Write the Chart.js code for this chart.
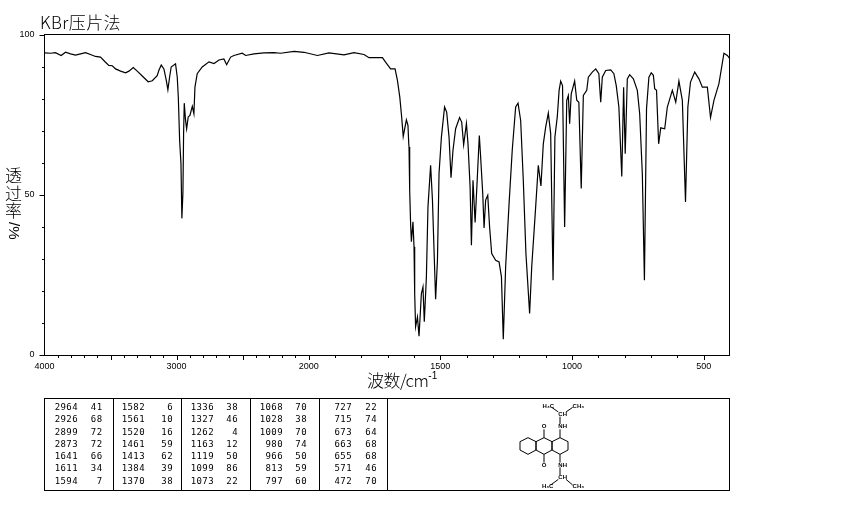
<!DOCTYPE html>
<html><head><meta charset="utf-8">
<style>html,body{margin:0;padding:0;background:#fff}canvas{display:block}</style>
<script src="https://cdn.jsdelivr.net/npm/chart.js@4"></script></head>
<body><canvas id="c" width="850" height="510"></canvas>
<script>
const wavenumbers=[3998,3955,3917,3874,3841,3803,3765,3727,3689,3652,3614,3576,3538,3513,3487,3462,3424,3386,3361,3328,3298,3260,3215,3184,3147,3134,3116,3096,3078,3066,3053,3041,3008,2995,2987,2977,2967,2960,2952,2947,2942,2932,2924,2912,2899,2881,2869,2861,2844,2806,2755,2717,2679,2642,2621,2591,2566,2503,2477,2414,2339,2263,2212,2111,2036,1967,1923,1866,1828,1790,1771,1720,1708,1689,1672,1663,1654,1647,1641,1629,1623,1620,1619,1616.5,1613,1610,1604,1600,1597.5,1594,1587,1581,1572,1566,1561,1553,1547,1537,1530,1524,1518,1511,1505,1496,1484,1476,1467,1459.5,1452,1442,1427,1419,1411.5,1401,1395,1387,1382,1376,1368,1359.5,1352,1347,1339,1334,1328,1320,1313,1305,1290,1277,1268,1261,1252,1239,1227,1214,1205,1195,1185,1175,1161,1153,1138,1128,1118,1109,1100,1090,1081,1072,1065,1056,1049,1043,1036,1028,1020,1014,1009,1003,990,982,974,965,957,944,938,923,910,898,891,885,872,853,841,832,822,811,804,798,790,781,767,752,743,733,725,717,708,699,691,686,679,671,663,648,638,619,606,594,581,569,560,550,534,518,505,486,474,461,442,423,410,401];
const transmittance=[94.4,94.3,94.5,93.6,94.6,94.1,93.7,94.1,94.5,93.9,93.3,93.1,91.5,90.5,90.4,89.4,88.7,88.2,88.7,89.8,88.7,87.2,85.4,85.7,87.3,89.0,90.6,89.4,85.8,82.9,86.8,90.0,91.0,86.8,80.6,67.1,59.8,42.7,50.9,69.2,78.7,73.3,70.7,74.4,74.9,77.7,75.4,83.7,87.9,90.0,91.6,91.1,92.2,92.5,90.7,93.1,93.6,94.3,93.6,94.1,94.4,94.5,94.3,94.9,94.6,93.6,94.4,93.8,94.5,93.9,92.9,92.9,91.5,89.4,89.4,85.8,80.6,74.4,68.3,73.5,71.8,66.0,65.0,51.5,41.1,35.4,41.6,33.8,19.2,8.8,11.9,5.9,19.2,21.3,10.4,24.4,46.3,59.3,48.4,32.8,17.4,29.6,56.7,68.1,77.5,75.9,68.1,55.4,64.0,70.7,74.2,72.8,65.7,72.3,66.0,52.5,34.3,54.6,41.4,55.6,68.6,61.9,50.4,39.7,48.4,49.9,40.0,31.7,29.6,29.1,24.4,4.9,27.6,47.3,64.0,77.5,78.7,73.3,54.6,31.7,13.0,27.6,46.3,59.3,52.8,66.0,71.2,75.6,69.2,23.4,68.1,74.4,82.7,85.6,84.2,40.0,79.6,81.1,72.3,81.6,85.6,79.6,79.0,52.0,81.1,82.7,86.8,88.4,89.4,87.9,79.0,86.8,88.9,89.1,87.9,84.2,77.5,55.8,83.7,62.9,86.3,87.6,86.3,82.7,75.4,56.7,23.4,77.0,86.8,88.2,87.4,83.2,82.7,66.0,71.0,70.7,77.5,82.7,79.0,85.6,79.6,47.8,77.5,85.3,88.4,86.3,83.7,83.7,74.2,79.6,84.8,94.3,93.6,92.6];
const xTickLabels=[4000,3000,2000,1500,1000,500];
const xLongTicks=[3500,3000,2500,2000,1500,1000,500];
const yTickLabels=[0,50,100];
const peakWavenumbers=[
 ["2964","2926","2899","2873","1641","1611","1594"],
 ["1582","1561","1520","1461","1413","1384","1370"],
 ["1336","1327","1262","1163","1119","1099","1073"],
 ["1068","1028","1009","980","966","813","797"],
 ["727","715","673","663","655","571","472"]];
const peakValues=[
 ["41","68","72","72","66","34","7"],
 ["6","10","16","59","62","39","38"],
 ["38","46","4","12","50","86","22"],
 ["70","38","70","74","50","59","60"],
 ["22","74","64","68","68","46","70"]];
const titleText="KBr压片法";
const xTitleText="波数/cm";
const xTitleSup="-1";
const yTitleChars=["透","过","率"];
const yTitleRotated="/%";

// IR wavenumber axis: the scale changes at 2000 cm-1 (2x expansion below it)
class IRAxis extends Chart.LinearScale{
  static id='irAxis';
  static defaults=Chart.LinearScale.defaults;
  buildTicks(){return xTickLabels.map(v=>({value:v}));}
  configure(){super.configure();}
  getPixelForValue(v){
    const f=264/685,w=this.right-this.left;
    const t=v>=2000?(4000-v)/2000*f:f+(2000-v)/1600*(1-f);
    return this.left+t*w;
  }
  getValueForPixel(p){
    const f=264/685,t=(p-this.left)/(this.right-this.left);
    return t<=f?4000-t/f*2000:2000-(t-f)/(1-f)*1600;
  }
}
Chart.register(IRAxis);

const CJK='"Noto Sans CJK SC"';
const decor={id:'decor',
 afterDatasetsDraw(chart){
  const {ctx,scales:{x,y}}=chart;
  ctx.save();
  ctx.strokeStyle='#000';ctx.fillStyle='#000';ctx.lineWidth=1;
  const L=44.5,R=729.5,T=34.5,B=355.5;
  const line=(x1,y1,x2,y2)=>{ctx.beginPath();ctx.moveTo(x1,y1);ctx.lineTo(x2,y2);ctx.stroke();};
  // frame
  ctx.strokeRect(L,T,R-L,B-T);
  // x ticks
  for(let v=3900;v>=500;v-=100){
    const p=Math.round(x.getPixelForValue(v))+.5;
    line(p,B,p,B+(xLongTicks.includes(v)?4.5:2.5));
  }
  // y ticks
  for(let v=0;v<=100;v+=10){
    const p=Math.round(y.getPixelForValue(v))+.5;
    line(L,p,L-(v%50===0?5:2.5),p);
  }
  // title
  ctx.textBaseline='alphabetic';ctx.textAlign='left';
  ctx.font='300 17px '+CJK;
  ctx.letterSpacing='0.4px';
  ctx.fillText(titleText,40,29);
  // x axis title
  ctx.letterSpacing='-0.5px';
  ctx.font='300 17px '+CJK;
  ctx.fillText(xTitleText,367,387);
  const wT=ctx.measureText(xTitleText).width;
  ctx.letterSpacing='0px';
  ctx.font='10px "Liberation Sans"';
  ctx.fillText(xTitleSup,367+wT,379);
  // y axis title
  ctx.font='300 17px '+CJK;ctx.textAlign='center';
  yTitleChars.forEach((c,i)=>ctx.fillText(c,13.5,182+i*17.5));
  ctx.save();ctx.translate(13.5,222);ctx.rotate(Math.PI/2);
  ctx.textAlign='left';ctx.textBaseline='middle';ctx.font='15px "Liberation Sans"';
  ctx.fillText(yTitleRotated,0,0);ctx.restore();
  // peak table
  const tT=398.5,tB=490.5;
  ctx.strokeRect(L,tT,R-L,tB-tT);
  [113.5,181.5,250.5,319.5,387.5].forEach(s=>line(s,tT,s,tB));
  const rows=[407.5,420,432.5,444.5,457,469,481.5];
  const wnRight=[78,145,214,283,352],valRight=[102.5,173,238,307,377];
  ctx.font='9px "DejaVu Sans Mono"';ctx.textAlign='right';ctx.textBaseline='middle';
  ctx.letterSpacing='0.4px';
  peakWavenumbers.forEach((col,c)=>col.forEach((w,r)=>{
    ctx.fillText(w,wnRight[c],rows[r]);
    ctx.fillText(peakValues[c][r],valRight[c],rows[r]);
  }));
  ctx.letterSpacing='0px';
  // molecule
  const mx=z=>380+z/3,my=z=>390+z/3;
  const poly=pts=>{ctx.beginPath();pts.forEach((p,i)=>i?ctx.lineTo(mx(p[0]),my(p[1])):ctx.moveTo(mx(p[0]),my(p[1])));ctx.closePath();ctx.stroke();};
  [0,48,96].forEach(d=>poly([[444+d,143],[468+d,155],[468+d,180],[444+d,193],[420+d,180],[420+d,155]]));
  [[492,143,492,118],[492,193,492,218],[540,143,540,118],[540,102,540,80],[535,66,515,52],[558,66,578,52],[540,193,540,218],[540,232,540,255],[535,268,512,285],[558,268,578,285]]
    .forEach(b=>line(mx(b[0]),my(b[1]),mx(b[2]),my(b[3])));
  ctx.font='bold 6px "Liberation Sans"';ctx.textAlign='center';ctx.textBaseline='middle';
  [["O",492,110],["O",492,226],["NH",548,110],["NH",548,225],["CH",548,73],["CH",548,262],["H₃C",505,49],["CH₃",595,50],["H₃C",503,289],["CH₃",595,290]]
    .forEach(l=>ctx.fillText(l[0],mx(l[1]),my(l[2])));
  ctx.restore();
 }};

new Chart(document.getElementById('c'),{
 type:'line',
 data:{datasets:[{
   data:wavenumbers.map((w,i)=>({x:w,y:transmittance[i]})),
   borderColor:'#000',borderWidth:1.2,pointRadius:0,tension:0,fill:false,clip:false}]},
 options:{
  responsive:false,animation:false,devicePixelRatio:1,
  layout:{padding:{top:35,right:120,left:0,bottom:0}},
  plugins:{legend:{display:false},tooltip:{enabled:false},title:{display:false}},
  scales:{
   x:{type:'irAxis',min:400,max:4000,
      grid:{display:false,drawTicks:false},border:{display:false},
      afterFit(s){s.height=155;},
      ticks:{autoSkip:false,maxRotation:0,padding:6,color:'#000',
             font:{family:'"Liberation Sans"',size:9},
             callback:v=>String(v)}},
   y:{min:0,max:100,
      grid:{display:false,drawTicks:false},border:{display:false},
      afterFit(s){s.width=44.5;},
      afterBuildTicks(s){s.ticks=yTickLabels.map(v=>({value:v}));},
      ticks:{autoSkip:false,padding:10,color:'#000',
             font:{family:'"Liberation Sans"',size:9},
             callback:v=>String(v)}}
  }},
 plugins:[decor]
});
</script></body></html>
